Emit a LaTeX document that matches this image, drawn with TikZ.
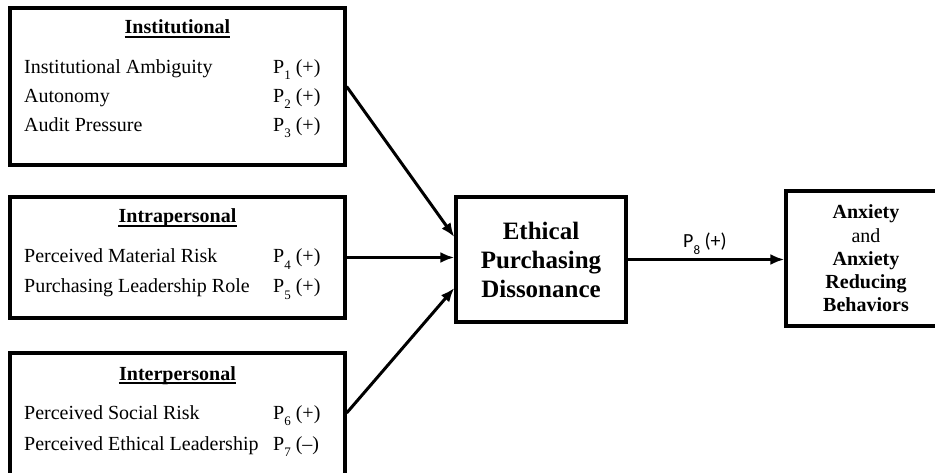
\documentclass[tikz,border=0pt]{standalone}
\usepackage{fontspec}
\setmainfont{Liberation Serif}
\newfontfamily\lblfont{Carlito}
\usetikzlibrary{arrows.meta}
\newcommand\psub[1]{\raisebox{-6pt}{\fontsize{13}{13}\selectfont #1}}
\begin{document}
\begin{tikzpicture}[x=1pt,y=-1pt,
  box/.style={draw, line width=3.3pt, inner sep=0pt},
  item/.style={anchor=base west, inner sep=0pt, font=\fontsize{20}{24}\selectfont},
  head/.style={anchor=base, inner sep=0pt, font=\bfseries\fontsize{20}{24}\selectfont},
  uline/.style={line width=1.8pt},
  arr/.style={line width=3pt, -{Latex[length=14pt,width=11pt]}}]
\clip (0,0) rectangle (935,473);
% boxes
\node[box, minimum width=335pt, minimum height=157pt] (inst) at (177.5,86.5) {};
\node[box, minimum width=335pt, minimum height=121pt] (intra) at (177.5,257.5) {};
\node[box, minimum width=335pt, minimum height=125pt] (inter) at (177.5,415.5) {};
\node[box, minimum width=170pt, minimum height=125pt, align=center,
      font=\bfseries\fontsize{25}{29}\selectfont] (ep) at (541,259.5)
      {Ethical\\Purchasing\\Dissonance};
\node[box, minimum width=160pt, minimum height=135pt, align=center,
      font=\fontsize{20}{23.3}\selectfont] (anx) at (866,258.5)
      {\textbf{Anxiety}\\and\\\textbf{Anxiety}\\\textbf{Reducing}\\\textbf{Behaviors}};
% institutional
\node[head] (h1) at (177.5,34) {Institutional};
\draw[uline] ([yshift=-3pt]h1.base west) -- ([yshift=-3pt]h1.base east);
\node[item] (a1) at (24,74) {Institutional Ambiguity};
\node[item] (p1) at (273,74) {P\psub{1} (+)};
\node[item] (a2) at (24,103) {Autonomy};
\node[item] (p2) at (273,103) {P\psub{2} (+)};
\node[item] (a3) at (24,132) {Audit Pressure};
\node[item] (p3) at (273,132) {P\psub{3} (+)};
% intrapersonal
\node[head] (h2) at (177.5,223) {Intrapersonal};
\draw[uline] ([yshift=-3pt]h2.base west) -- ([yshift=-3pt]h2.base east);
\node[item] (a4) at (24,263) {Perceived Material Risk};
\node[item] (p4) at (273,263) {P\psub{4} (+)};
\node[item] (a5) at (24,293) {Purchasing Leadership Role};
\node[item] (p5) at (273,293) {P\psub{5} (+)};
% interpersonal
\node[head] (h3) at (177.5,380) {Interpersonal};
\draw[uline] ([yshift=-3pt]h3.base west) -- ([yshift=-3pt]h3.base east);
\node[item] (a6) at (24,419) {Perceived Social Risk};
\node[item] (p6) at (273,419) {P\psub{6} (+)};
\node[item] (a7) at (24,450) {Perceived Ethical Leadership};
\node[item] (p7) at (273,450) {P\psub{7} (\textendash)};
% connectors
\draw[arr] (inst.east) -- ([yshift=22.5pt]ep.west);
\draw[arr] (intra.east) -- (intra.east -| ep.west);
\draw[arr] ([yshift=2.5pt]inter.east) -- ([yshift=-28.5pt]ep.west);
\draw[arr] (ep.east) -- (ep.east -| anx.west);
\node[anchor=base, inner sep=0pt, font=\lblfont\fontsize{20}{22}\selectfont] (p8) at (705,248)
  {P\raisebox{-6pt}{\fontsize{13}{13}\selectfont 8} (+)};
\end{tikzpicture}
\end{document}
